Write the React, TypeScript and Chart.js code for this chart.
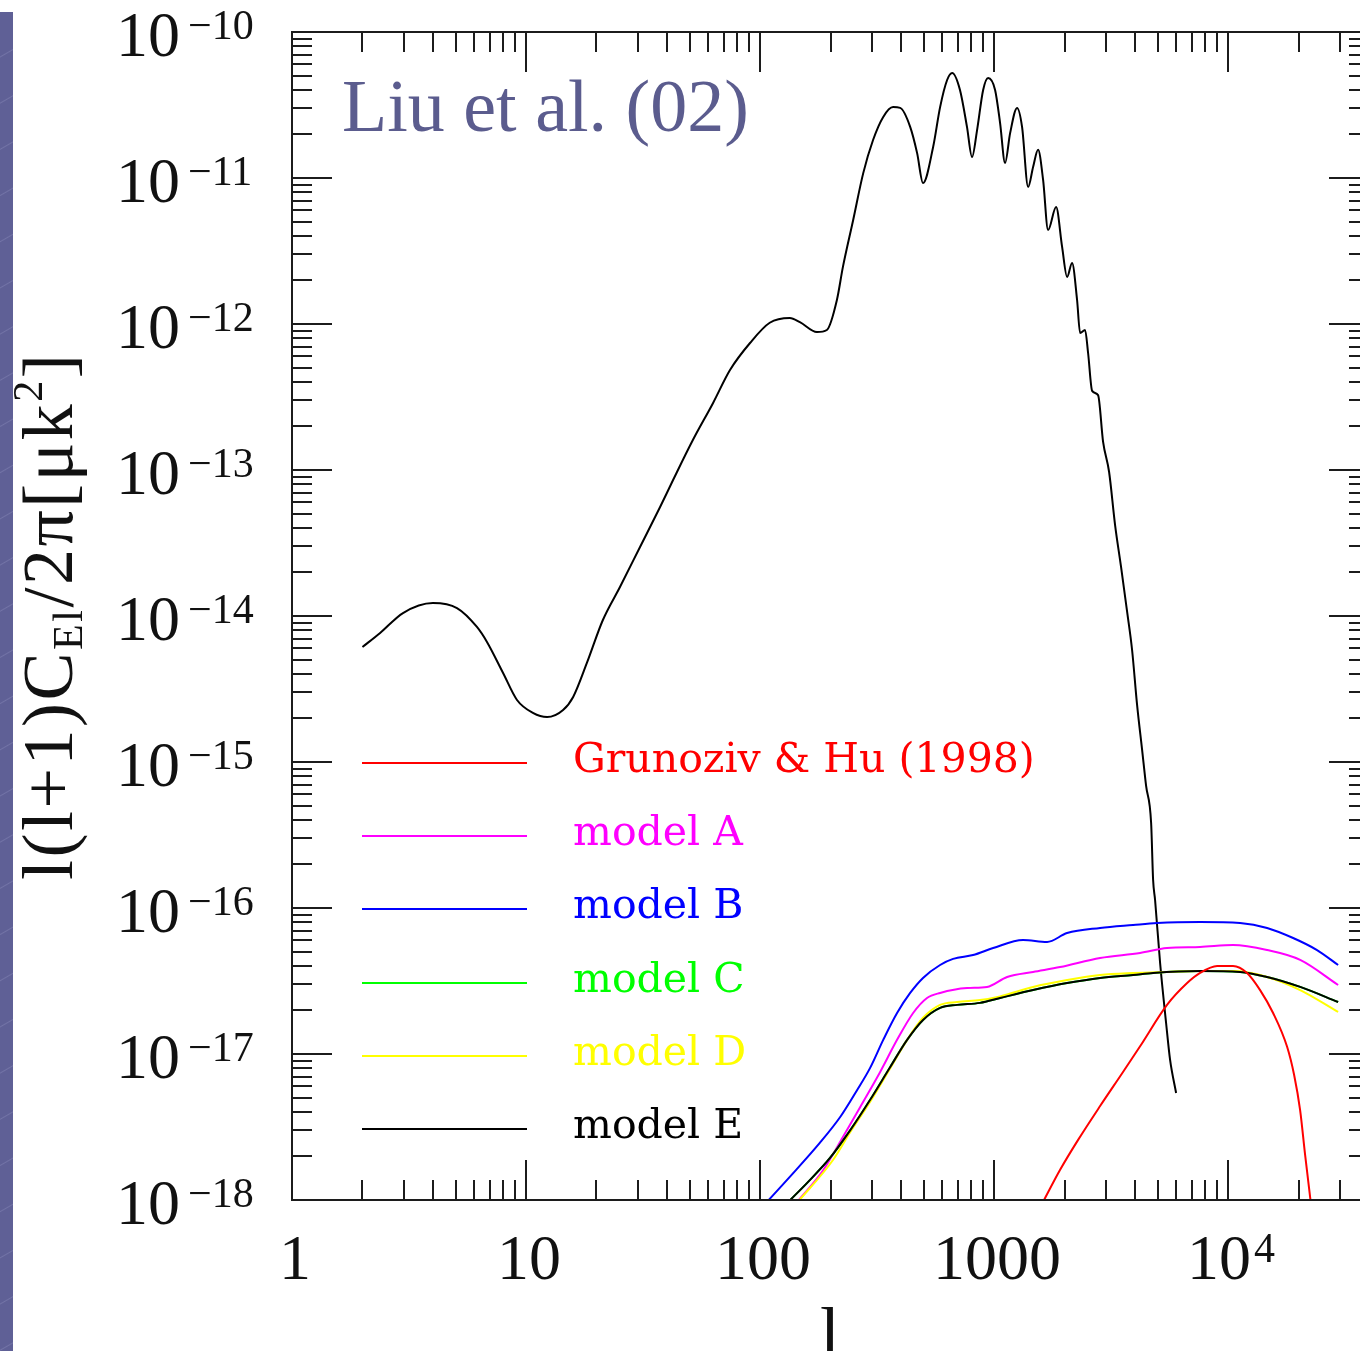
import React, { useEffect, useRef } from "react";
import { Chart, registerables } from "chart.js";

Chart.register(...registerables);

// ---------- data (l, l(l+1)C_El/2π) ----------
const MAIN_L = [2, 2.38, 2.98, 4.0, 5.07, 6.17, 6.81, 7.98, 9.15, 10.7, 12.3, 14.4, 15.9, 18.2, 21.3, 25.2, 30.7, 37.4, 42.5, 51.7, 63.0, 74.4, 90.6, 110, 134, 148, 175, 193, 213, 226, 250, 276, 304, 336, 370, 397, 438, 469, 497, 549, 588, 630, 662, 715, 766, 805, 846, 898, 943, 1010, 1061, 1114, 1171, 1254, 1317, 1398, 1468, 1542, 1620, 1701, 1841, 1953, 2051, 2154, 2263, 2331, 2448, 2522, 2624, 2782, 2923, 3101, 3289, 3488, 3702, 3888, 4084, 4291, 4463, 4689, 4781, 4876, 5122, 5433, 5651, 5995];
const MAIN_C = [6.13e-15, 7.65e-15, 1.048e-14, 1.227e-14, 1.134e-14, 8.41e-15, 6.64e-15, 4.07e-15, 2.66e-15, 2.17e-15, 2.03e-15, 2.27e-15, 2.79e-15, 4.77e-15, 9.39e-15, 1.58e-14, 2.97e-14, 5.58e-14, 8.54e-14, 1.61e-13, 2.88e-13, 4.84e-13, 7.41e-13, 1.02e-12, 1.10e-12, 1.03e-12, 8.81e-13, 9.1e-13, 1.46e-12, 2.46e-12, 5.16e-12, 1.08e-11, 1.82e-11, 2.62e-11, 3.06e-11, 3.02e-11, 2.24e-11, 1.48e-11, 9.24e-12, 1.63e-11, 3.06e-11, 4.69e-11, 5.24e-11, 4.01e-11, 2.24e-11, 1.39e-11, 2.13e-11, 4.01e-11, 4.84e-11, 4.01e-11, 2.38e-11, 1.27e-11, 2.03e-11, 3.02e-11, 2.24e-11, 8.68e-12, 1.19e-11, 1.56e-11, 9.69e-12, 4.40e-12, 6.33e-12, 3.37e-12, 2.10e-12, 2.62e-12, 1.46e-12, 8.68e-13, 9.1e-13, 6.33e-13, 3.48e-13, 3.26e-13, 1.56e-13, 9.69e-14, 4.20e-14, 2.17e-14, 1.07e-14, 5.85e-15, 2.46e-15, 1.21e-15, 6.85e-16, 3.82e-16, 1.56e-16, 1.13e-16, 4.20e-17, 1.63e-17, 9.10e-18, 5.41e-18];

const GH_L = [1619, 1915, 2286, 2838, 3556, 4207, 5483, 6683, 7590, 8977, 10500, 12050, 13700, 15570, 17870, 19150, 20310, 21340, 22630];
const GH_C = [9.7e-19, 1.61e-18, 2.58e-18, 4.40e-18, 7.53e-18, 1.13e-17, 2.17e-17, 3.06e-17, 3.59e-17, 4.01e-17, 4.01e-17, 3.59e-17, 2.74e-17, 1.91e-17, 1.12e-17, 7.18e-18, 4.13e-18, 2.03e-18, 9.2e-19];

const A_L = [144, 186, 226, 268, 326, 385, 451, 517, 588, 767, 933, 1137, 1468, 1915, 2838, 4207, 5483, 7590, 10500, 14680, 20320, 29520];
const A_C = [9.7e-19, 1.60e-18, 2.70e-18, 4.34e-18, 7.53e-18, 1.25e-17, 1.91e-17, 2.42e-17, 2.62e-17, 2.83e-17, 2.88e-17, 3.37e-17, 3.65e-17, 3.94e-17, 4.55e-17, 4.92e-17, 5.32e-17, 5.41e-17, 5.58e-17, 5.15e-17, 4.41e-17, 2.97e-17];

const B_L = [107, 134, 180, 220, 260, 295, 336, 385, 438, 497, 588, 668, 813, 991, 1330, 1684, 2051, 2838, 3926, 4977, 7590, 11250, 14680, 18960, 23990, 29520];
const B_C = [9.7e-19, 1.44e-18, 2.46e-18, 3.7e-18, 5.67e-18, 8.0e-18, 1.25e-17, 1.91e-17, 2.62e-17, 3.32e-17, 4.07e-17, 4.48e-17, 4.76e-17, 5.32e-17, 6.04e-17, 5.85e-17, 6.74e-17, 7.3e-17, 7.65e-17, 7.89e-17, 8.02e-17, 7.89e-17, 7.3e-17, 6.23e-17, 5.15e-17, 4.07e-17];

const C_L = [132, 159, 199, 243, 295, 360, 425, 497, 588, 695, 871, 1061, 1468, 2051, 2838, 3926, 4780, 7590, 11250, 14680, 20320, 29520];
const C_C = [9.7e-19, 1.31e-18, 1.94e-18, 3.01e-18, 4.84e-18, 8.15e-18, 1.25e-17, 1.71e-17, 2.07e-17, 2.17e-17, 2.24e-17, 2.42e-17, 2.74e-17, 3.06e-17, 3.32e-17, 3.48e-17, 3.59e-17, 3.70e-17, 3.65e-17, 3.37e-17, 2.88e-17, 2.27e-17];

const D_L = [145, 205, 243, 295, 360, 425, 497, 588, 695, 871, 1061, 1468, 2051, 2838, 3926, 5483, 7590, 10500, 14680, 20320, 29520];
const D_C = [9.7e-19, 1.88e-18, 2.92e-18, 4.69e-18, 8.0e-18, 1.25e-17, 1.77e-17, 2.17e-17, 2.27e-17, 2.34e-17, 2.48e-17, 2.88e-17, 3.21e-17, 3.48e-17, 3.59e-17, 3.65e-17, 3.70e-17, 3.70e-17, 3.37e-17, 2.74e-17, 1.94e-17];

const E_L = [132, 159, 199, 243, 295, 360, 425, 497, 588, 695, 871, 1061, 1468, 2051, 2838, 3926, 4780, 7590, 11250, 14680, 20320, 29520];
const E_C = [9.7e-19, 1.31e-18, 1.94e-18, 3.01e-18, 4.84e-18, 8.15e-18, 1.25e-17, 1.71e-17, 2.07e-17, 2.17e-17, 2.24e-17, 2.42e-17, 2.74e-17, 3.06e-17, 3.32e-17, 3.48e-17, 3.59e-17, 3.70e-17, 3.65e-17, 3.37e-17, 2.88e-17, 2.27e-17];

const LEGEND_LABELS = ["Grunoziv & Hu (1998)", "model A", "model B", "model C", "model D", "model E"];

const X_MIN = 1;
const X_MAX = 40000;
const Y_MIN = 1e-18;
const Y_MAX = 1e-10;

const X_TICK_VALUES = [1, 10, 100, 1000, 10000];
const X_TICK_BASE = ["1", "10", "100", "1000", "10"];
const X_TICK_EXP = ["", "", "", "", "4"];

const Y_TICK_VALUES = [1e-10, 1e-11, 1e-12, 1e-13, 1e-14, 1e-15, 1e-16, 1e-17, 1e-18];
const Y_TICK_BASE = ["10", "10", "10", "10", "10", "10", "10", "10", "10"];
const Y_TICK_EXP = ["\u221210", "\u221211", "\u221212", "\u221213", "\u221214", "\u221215", "\u221216", "\u221217", "\u221218"];

const TITLE = "Liu et al. (02)";
const X_TITLE = "l";

const pts = (xs: number[], ys: number[]) => xs.map((x, i) => ({ x, y: ys[i] }));

const SERIF = '"Liberation Serif", "Times New Roman", serif';

const decoPlugin = {
  id: "smDeco",
  afterDatasetsDraw(chart: any) {
    const { ctx, chartArea: a, scales } = chart;
    const xs = scales.x;
    const ys = scales.y;
    ctx.save();
    ctx.strokeStyle = "#1c1c1c";
    ctx.lineWidth = 2;
    ctx.lineCap = "butt";
    const seg = (x1: number, y1: number, x2: number, y2: number) => {
      ctx.beginPath();
      ctx.moveTo(x1, y1);
      ctx.lineTo(x2, y2);
      ctx.stroke();
    };
    const ex0 = Math.floor(Math.log10(xs.min));
    const ex1 = Math.ceil(Math.log10(xs.max));
    for (let e = ex0; e <= ex1; e++) {
      for (let m = 1; m <= 9; m++) {
        const v = m * Math.pow(10, e);
        if (v < xs.min * 0.999 || v > xs.max * 1.001) continue;
        const px = Math.round(xs.getPixelForValue(v));
        const len = m === 1 ? 40 : 20;
        seg(px, a.bottom, px, a.bottom - len);
        seg(px, a.top, px, a.top + len);
      }
    }
    const ey0 = Math.floor(Math.log10(ys.min) + 1e-9);
    const ey1 = Math.ceil(Math.log10(ys.max) - 1e-9);
    for (let e = ey0; e <= ey1; e++) {
      for (let m = 1; m <= 9; m++) {
        const v = m * Math.pow(10, e);
        if (v < ys.min * 0.999 || v > ys.max * 1.001) continue;
        const py = Math.round(ys.getPixelForValue(v));
        const len = m === 1 ? 40 : 20;
        seg(a.left, py, a.left + len, py);
        seg(a.right, py, a.right - len, py);
      }
    }
    ctx.strokeRect(a.left, a.top, a.right - a.left, a.bottom - a.top);
    ctx.restore();
  },
  afterDraw(chart: any) {
    const { ctx, chartArea: a, scales } = chart;
    const xs = scales.x;
    const ys = scales.y;
    ctx.save();
    ctx.fillStyle = "#111";
    ctx.textBaseline = "alphabetic";

    // y tick labels
    Y_TICK_VALUES.forEach((v, i) => {
      const py = ys.getPixelForValue(v);
      ctx.textAlign = "left";
      ctx.font = `64px ${SERIF}`;
      ctx.fillText(Y_TICK_BASE[i], 116, py + 24);
      ctx.font = `42px ${SERIF}`;
      ctx.fillText(Y_TICK_EXP[i], 188, py + 7);
    });

    // x tick labels
    X_TICK_VALUES.forEach((v, i) => {
      const cx = xs.getPixelForValue(v) + 3;
      const base = 1279;
      ctx.font = `64px ${SERIF}`;
      const wb = ctx.measureText(X_TICK_BASE[i]).width;
      ctx.font = `42px ${SERIF}`;
      const we = X_TICK_EXP[i] ? ctx.measureText(X_TICK_EXP[i]).width + 3 : 0;
      const x0 = cx - (wb + we) / 2;
      ctx.textAlign = "left";
      ctx.font = `64px ${SERIF}`;
      ctx.fillText(X_TICK_BASE[i], x0, base);
      if (X_TICK_EXP[i]) {
        ctx.font = `42px ${SERIF}`;
        ctx.fillText(X_TICK_EXP[i], x0 + wb + 3, base - 17);
      }
    });

    // x axis title
    ctx.font = `72px ${SERIF}`;
    ctx.textAlign = "center";
    ctx.fillText(X_TITLE, 830, 1357);

    // y axis title (rotated)
    ctx.save();
    ctx.translate(72, 880);
    ctx.rotate(-Math.PI / 2);
    ctx.textAlign = "left";
    try {
      (ctx as any).letterSpacing = "2.5px";
    } catch (e) {}
    let x = 0;
    const piece = (t: string, size: number, dy: number) => {
      ctx.font = `${size}px ${SERIF}`;
      ctx.fillText(t, x, dy);
      x += ctx.measureText(t).width;
    };
    piece("l(l+1)C", 72, 0);
    piece("El", 42, 10);
    piece("/2\u03c0[\u03bck", 72, 0);
    piece("2", 42, -30);
    piece("]", 72, 0);
    ctx.restore();

    // title
    ctx.font = `74px ${SERIF}`;
    ctx.textAlign = "left";
    ctx.fillStyle = "#5b5c8e";
    ctx.fillText(TITLE, 342, 131);

    // legend (inside plot)
    const ds = chart.data.datasets;
    LEGEND_LABELS.forEach((lab, i) => {
      const d = ds.find((q: any) => q.label === lab);
      if (!d) return;
      const y = Math.round(a.top + 731 + i * 73.2);
      ctx.strokeStyle = d.borderColor;
      ctx.lineWidth = 2;
      ctx.beginPath();
      ctx.moveTo(a.left + 70, y);
      ctx.lineTo(a.left + 235, y);
      ctx.stroke();
      ctx.fillStyle = d.borderColor;
      ctx.font = '41px "DejaVu Serif", serif';
      ctx.textAlign = "left";
      ctx.fillText(lab, a.left + 281, y + 9);
    });
    ctx.restore();
  },
};

export default function App() {
  const ref = useRef<HTMLCanvasElement | null>(null);
  useEffect(() => {
    if (!ref.current) return;
    const line = (label: string, xs: number[], ys: number[], color: string, order: number) => ({
      label,
      data: pts(xs, ys),
      borderColor: color,
      backgroundColor: color,
      borderWidth: 2,
      pointRadius: 0,
      showLine: true,
      fill: false,
      cubicInterpolationMode: "monotone" as const,
      order,
    });
    const chart = new Chart(ref.current, {
      type: "scatter",
      data: {
        datasets: [
          line("E-mode spectrum", MAIN_L, MAIN_C, "#000000", 8),
          line("Grunoziv & Hu (1998)", GH_L, GH_C, "#ff0000", 1),
          line("model A", A_L, A_C, "#ff00ff", 6),
          line("model B", B_L, B_C, "#0000ff", 7),
          line("model C", C_L, C_C, "#00ff00", 5),
          line("model D", D_L, D_C, "#ffff00", 4),
          line("model E", E_L, E_C, "#000000", 3),
        ],
      },
      options: {
        responsive: false,
        maintainAspectRatio: false,
        animation: false,
        devicePixelRatio: 1,
        layout: { padding: { left: 292, top: 32, right: 1400 - 1369, bottom: 1351 - 1200 } },
        plugins: { legend: { display: false }, tooltip: { enabled: false } },
        events: [],
        scales: {
          x: { type: "logarithmic", min: X_MIN, max: X_MAX, display: false },
          y: { type: "logarithmic", min: Y_MIN, max: Y_MAX, display: false },
        },
      },
      plugins: [decoPlugin],
    });
    return () => chart.destroy();
  }, []);

  return (
    <div style={{ position: "fixed", left: 0, top: 0, width: 1360, height: 1351, overflow: "hidden", background: "#fff" }}>
      <div
        style={{
          position: "absolute",
          left: 0,
          top: 12,
          width: 13,
          height: 1339,
          background: "repeating-linear-gradient(150deg, #5f6096 0px, #5f6096 38px, #7273a6 39px, #5f6096 40px)",
        }}
      />
      <canvas ref={ref} width={1400} height={1351} style={{ position: "absolute", left: 0, top: 0, width: 1400, height: 1351 }} />
    </div>
  );
}
